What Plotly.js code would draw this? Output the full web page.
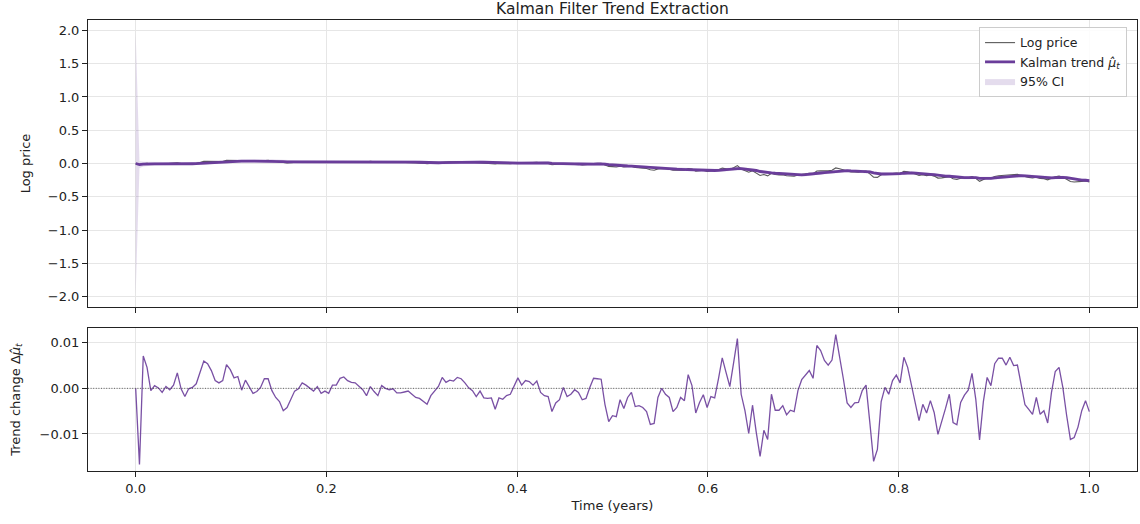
<!DOCTYPE html>
<html>
<head>
<meta charset="utf-8">
<script src="https://cdn.plot.ly/plotly-3.0.1.min.js"></script>
<style>
  html, body { margin: 0; padding: 0; background: #ffffff; }
  #chart { width: 1140px; height: 524px; }
</style>
</head>
<body>
<div id="chart"></div>
<script>
// ---- data ----
const tradingDaysPerYear = 252;

// Daily change of the Kalman trend (bottom panel)
const deltaMu = [
  0, -0.0167, 0.0071, 0.0046, -0.0005, 0.0006, 0.0001, -0.0009, 0.0004, -0.0003,
  0.0007, 0.0034, -0.0001, -0.0018, -0.0001, 0.0002, 0.0010, 0.0037, 0.0060, 0.0054,
  0.0039, 0.0017, 0.0012, 0.0017, 0.0052, 0.0041, 0.0023, 0.0026, -0.0004, 0.0018,
  0.0002, -0.0011, -0.0007, 0.0002, 0.0021, 0.0021, -0.0005, -0.0020, -0.0029, -0.0049,
  -0.0042, -0.0025, -0.0006, -0.0001, 0.0012, 0.0007, 0.0000, -0.0006, 0.0004, -0.0011,
  -0.0006, -0.0011, 0.0007, 0.0007, 0.0022, 0.0025, 0.0017, 0.0013, 0.0012, 0.0004,
  -0.0003, -0.0016, 0.0004, -0.0007, -0.0016, 0.0006, 0.0000, -0.0003, -0.0001, -0.0010,
  -0.0010, -0.0008, -0.0006, -0.0013, -0.0020, -0.0022, -0.0028, -0.0035, -0.0016, -0.0005,
  0.0004, 0.0024, 0.0013, 0.0018, 0.0016, 0.0024, 0.0021, 0.0012, 0.0001, -0.0005,
  -0.0018, -0.0006, -0.0021, -0.0022, -0.0021, -0.0046, -0.0021, -0.0024, -0.0016, -0.0013,
  0.0006, 0.0023, 0.0007, 0.0017, 0.0015, 0.0007, 0.0016, -0.0009, -0.0016, -0.0018,
  -0.0051, -0.0032, -0.0025, 0.0002, -0.0018, -0.0013, -0.0003, -0.0009, -0.0025, -0.0022,
  0.0002, 0.0022, 0.0021, 0.0020, -0.0035, -0.0073, -0.0060, -0.0062, -0.0025, -0.0044,
  -0.0020, -0.0009, -0.0040, -0.0038, -0.0042, -0.0051, -0.0079, -0.0077, -0.0020, 0.0000,
  -0.0013, -0.0020, -0.0051, -0.0042, -0.0020, -0.0027, 0.0030, 0.0006, -0.0054, -0.0031,
  -0.0014, -0.0042, -0.0018, -0.0021, 0.0021, 0.0067, 0.0035, 0.0004, 0.0056, 0.0109,
  -0.0013, -0.0049, -0.0099, -0.0037, -0.0097, -0.0149, -0.0092, -0.0112, -0.0013, -0.0048,
  -0.0048, -0.0038, -0.0058, -0.0048, -0.0051, -0.0005, 0.0019, 0.0028, 0.0039, 0.0022,
  0.0094, 0.0083, 0.0061, 0.0051, 0.0062, 0.0118, 0.0072, 0.0021, -0.0032, -0.0042,
  -0.0032, -0.0031, -0.0005, 0.0007, -0.0075, -0.0160, -0.0134, -0.0029, 0.0002, -0.0013,
  0.0017, 0.0029, 0.0012, 0.0068, 0.0046, 0.0007, -0.0035, -0.0071, -0.0035, -0.0054,
  -0.0027, -0.0053, -0.0101, -0.0075, -0.0044, -0.0013, -0.0075, -0.0080, -0.0031, -0.0015,
  -0.0004, 0.0033, -0.0024, -0.0113, -0.0029, 0.0024, 0.0006, 0.0054, 0.0066, 0.0066,
  0.0051, 0.0068, 0.0050, 0.0051, 0.0006, -0.0036, -0.0046, -0.0057, -0.0020, -0.0057,
  -0.0049, -0.0076, -0.0009, 0.0037, 0.0046, 0.0002, -0.0059, -0.0112, -0.0108, -0.0085,
  -0.0049, -0.0027, -0.0051
];

// Kalman trend (top panel, thick purple)
const kalmanTrend = [
  0, -0.0167, -0.0096, -0.0050, -0.0055, -0.0049, -0.0048, -0.0057, -0.0053, -0.0056,
  -0.0049, -0.0015, -0.0016, -0.0034, -0.0035, -0.0033, -0.0023, 0.0014, 0.0074, 0.0128,
  0.0167, 0.0184, 0.0196, 0.0213, 0.0265, 0.0306, 0.0329, 0.0355, 0.0351, 0.0369,
  0.0371, 0.0360, 0.0353, 0.0355, 0.0376, 0.0397, 0.0392, 0.0372, 0.0343, 0.0294,
  0.0252, 0.0227, 0.0221, 0.0220, 0.0232, 0.0239, 0.0239, 0.0233, 0.0237, 0.0226,
  0.0220, 0.0209, 0.0216, 0.0223, 0.0245, 0.0270, 0.0287, 0.0300, 0.0312, 0.0316,
  0.0313, 0.0297, 0.0301, 0.0294, 0.0278, 0.0284, 0.0284, 0.0281, 0.0280, 0.0270,
  0.0260, 0.0252, 0.0246, 0.0233, 0.0213, 0.0191, 0.0163, 0.0128, 0.0112, 0.0107,
  0.0111, 0.0135, 0.0148, 0.0166, 0.0182, 0.0206, 0.0227, 0.0239, 0.0240, 0.0235,
  0.0217, 0.0211, 0.0190, 0.0168, 0.0147, 0.0101, 0.0080, 0.0056, 0.0040, 0.0027,
  0.0033, 0.0056, 0.0063, 0.0080, 0.0095, 0.0102, 0.0118, 0.0109, 0.0093, 0.0075,
  0.0024, -0.0008, -0.0033, -0.0031, -0.0049, -0.0062, -0.0065, -0.0074, -0.0099, -0.0121,
  -0.0119, -0.0097, -0.0076, -0.0056, -0.0091, -0.0164, -0.0224, -0.0286, -0.0311, -0.0355,
  -0.0375, -0.0384, -0.0424, -0.0462, -0.0504, -0.0555, -0.0634, -0.0711, -0.0731, -0.0731,
  -0.0744, -0.0764, -0.0815, -0.0857, -0.0877, -0.0904, -0.0874, -0.0868, -0.0922, -0.0953,
  -0.0967, -0.1009, -0.1027, -0.1048, -0.1027, -0.0960, -0.0925, -0.0921, -0.0865, -0.0756,
  -0.0769, -0.0818, -0.0917, -0.0954, -0.1051, -0.1200, -0.1292, -0.1404, -0.1417, -0.1465,
  -0.1513, -0.1551, -0.1609, -0.1657, -0.1708, -0.1713, -0.1694, -0.1666, -0.1627, -0.1605,
  -0.1511, -0.1428, -0.1367, -0.1316, -0.1254, -0.1136, -0.1064, -0.1043, -0.1075, -0.1117,
  -0.1149, -0.1180, -0.1185, -0.1178, -0.1253, -0.1413, -0.1547, -0.1576, -0.1574, -0.1587,
  -0.1570, -0.1541, -0.1529, -0.1461, -0.1415, -0.1408, -0.1443, -0.1514, -0.1549, -0.1603,
  -0.1630, -0.1683, -0.1784, -0.1859, -0.1903, -0.1916, -0.1991, -0.2071, -0.2102, -0.2117,
  -0.2121, -0.2088, -0.2112, -0.2225, -0.2254, -0.2230, -0.2224, -0.2170, -0.2104, -0.2038,
  -0.1987, -0.1919, -0.1869, -0.1818, -0.1812, -0.1848, -0.1894, -0.1951, -0.1971, -0.2028,
  -0.2077, -0.2153, -0.2162, -0.2125, -0.2079, -0.2077, -0.2136, -0.2248, -0.2356, -0.2441,
  -0.2490, -0.2517, -0.2568
];

// Observed log price (top panel, thin grey)
const logPrice = [
  0, -0.0167, -0.0028, 0.0032, -0.0067, -0.0031, -0.0045, -0.0089, -0.0038, -0.0068,
  -0.0021, 0.0121, -0.0020, -0.0106, -0.0039, -0.0025, 0.0017, 0.0162, 0.0314, 0.0344,
  0.0323, 0.0252, 0.0244, 0.0281, 0.0473, 0.0470, 0.0421, 0.0459, 0.0335, 0.0441,
  0.0379, 0.0316, 0.0325, 0.0363, 0.0460, 0.0481, 0.0372, 0.0292, 0.0227, 0.0098,
  0.0084, 0.0127, 0.0197, 0.0216, 0.0280, 0.0267, 0.0239, 0.0209, 0.0253, 0.0182,
  0.0196, 0.0165, 0.0244, 0.0251, 0.0333, 0.0370, 0.0355, 0.0352, 0.0360, 0.0332,
  0.0301, 0.0233, 0.0317, 0.0266, 0.0214, 0.0308, 0.0284, 0.0269, 0.0276, 0.0230,
  0.0220, 0.0220, 0.0222, 0.0181, 0.0133, 0.0103, 0.0051, -0.0012, 0.0048, 0.0087,
  0.0127, 0.0231, 0.0200, 0.0238, 0.0246, 0.0302, 0.0311, 0.0287, 0.0244, 0.0215,
  0.0145, 0.0187, 0.0106, 0.0080, 0.0063, -0.0083, -0.0004, -0.0040, -0.0024, -0.0025,
  0.0057, 0.0148, 0.0091, 0.0148, 0.0155, 0.0130, 0.0182, 0.0073, 0.0029, 0.0003,
  -0.0180, -0.0136, -0.0133, -0.0023, -0.0121, -0.0114, -0.0077, -0.0110, -0.0199, -0.0209,
  -0.0111, -0.0009, 0.0008, 0.0024, -0.0231, -0.0456, -0.0464, -0.0534, -0.0411, -0.0531,
  -0.0455, -0.0420, -0.0584, -0.0614, -0.0672, -0.0759, -0.0950, -0.1019, -0.0811, -0.0731,
  -0.0796, -0.0844, -0.1019, -0.1025, -0.0957, -0.1012, -0.0754, -0.0844, -0.1138, -0.1077,
  -0.1023, -0.1177, -0.1099, -0.1132, -0.0943, -0.0692, -0.0785, -0.0905, -0.0641, -0.0320,
  -0.0821, -0.1014, -0.1313, -0.1102, -0.1439, -0.1796, -0.1660, -0.1852, -0.1469, -0.1657,
  -0.1705, -0.1703, -0.1841, -0.1849, -0.1912, -0.1733, -0.1618, -0.1554, -0.1471, -0.1517,
  -0.1135, -0.1096, -0.1123, -0.1112, -0.1006, -0.0664, -0.0776, -0.0959, -0.1203, -0.1285,
  -0.1277, -0.1304, -0.1205, -0.1150, -0.1553, -0.2053, -0.2083, -0.1692, -0.1566, -0.1639,
  -0.1502, -0.1425, -0.1481, -0.1189, -0.1231, -0.1380, -0.1583, -0.1798, -0.1689, -0.1819,
  -0.1738, -0.1895, -0.2188, -0.2159, -0.2079, -0.1968, -0.2291, -0.2391, -0.2226, -0.2177,
  -0.2137, -0.1956, -0.2208, -0.2677, -0.2370, -0.2134, -0.2200, -0.1954, -0.1840, -0.1774,
  -0.1783, -0.1647, -0.1669, -0.1614, -0.1788, -0.1992, -0.2078, -0.2179, -0.2051, -0.2256,
  -0.2273, -0.2457, -0.2198, -0.1977, -0.1895, -0.2069, -0.2372, -0.2696, -0.2788, -0.2781,
  -0.2686, -0.2625, -0.2772
];

// Half-width of the 95% confidence band around the trend
const ciHalfWidth = [
  1.96, 0.052, 0.037, 0.031, 0.028, 0.026, 0.025, 0.024, 0.023, 0.023,
  0.023, 0.023, 0.023, 0.023, 0.023, 0.023, 0.023, 0.023, 0.023, 0.023,
  0.023, 0.023, 0.023, 0.023, 0.023, 0.023, 0.023, 0.023, 0.023, 0.023,
  0.023, 0.023, 0.023, 0.023, 0.023, 0.023, 0.023, 0.023, 0.023, 0.023,
  0.023, 0.023, 0.023, 0.023, 0.023, 0.023, 0.023, 0.023, 0.023, 0.023,
  0.023, 0.023, 0.023, 0.023, 0.023, 0.023, 0.023, 0.023, 0.023, 0.023,
  0.023, 0.023, 0.023, 0.023, 0.023, 0.023, 0.023, 0.023, 0.023, 0.023,
  0.023, 0.023, 0.023, 0.023, 0.023, 0.023, 0.023, 0.023, 0.023, 0.023,
  0.023, 0.023, 0.023, 0.023, 0.023, 0.023, 0.023, 0.023, 0.023, 0.023,
  0.023, 0.023, 0.023, 0.023, 0.023, 0.023, 0.023, 0.023, 0.023, 0.023,
  0.023, 0.023, 0.023, 0.023, 0.023, 0.023, 0.023, 0.023, 0.023, 0.023,
  0.023, 0.023, 0.023, 0.023, 0.023, 0.023, 0.023, 0.023, 0.023, 0.023,
  0.023, 0.023, 0.023, 0.023, 0.023, 0.023, 0.023, 0.023, 0.023, 0.023,
  0.023, 0.023, 0.023, 0.023, 0.023, 0.023, 0.023, 0.023, 0.023, 0.023,
  0.023, 0.023, 0.023, 0.023, 0.023, 0.023, 0.023, 0.023, 0.023, 0.023,
  0.023, 0.023, 0.023, 0.023, 0.023, 0.023, 0.023, 0.023, 0.023, 0.023,
  0.023, 0.023, 0.023, 0.023, 0.023, 0.023, 0.023, 0.023, 0.023, 0.023,
  0.023, 0.023, 0.023, 0.023, 0.023, 0.023, 0.023, 0.023, 0.023, 0.023,
  0.023, 0.023, 0.023, 0.023, 0.023, 0.023, 0.023, 0.023, 0.023, 0.023,
  0.023, 0.023, 0.023, 0.023, 0.023, 0.023, 0.023, 0.023, 0.023, 0.023,
  0.023, 0.023, 0.023, 0.023, 0.023, 0.023, 0.023, 0.023, 0.023, 0.023,
  0.023, 0.023, 0.023, 0.023, 0.023, 0.023, 0.023, 0.023, 0.023, 0.023,
  0.023, 0.023, 0.023, 0.023, 0.023, 0.023, 0.023, 0.023, 0.023, 0.023,
  0.023, 0.023, 0.023, 0.023, 0.023, 0.023, 0.023, 0.023, 0.023, 0.023,
  0.023, 0.023, 0.023, 0.023, 0.023, 0.023, 0.023, 0.023, 0.023, 0.023,
  0.023, 0.023, 0.023
];

const xTickValues = [0, 0.2, 0.4, 0.6, 0.8, 1.0];
const topYTickValues = [-2, -1.5, -1, -0.5, 0, 0.5, 1, 1.5, 2];
const bottomYTickValues = [-0.01, 0, 0.01];

// ---- derived arrays ----
const timeYears = deltaMu.map((_, day) => day / tradingDaysPerYear);
const ciLower = kalmanTrend.map((m, i) => m - ciHalfWidth[i]);
const ciUpper = kalmanTrend.map((m, i) => m + ciHalfWidth[i]);

const purple = '#6a3d9a';
const font = 'DejaVu Sans, Liberation Sans, sans-serif';

const traces = [
  { x: timeYears, y: ciLower, xaxis: 'x', yaxis: 'y', mode: 'lines',
    line: { width: 0, color: 'rgba(0,0,0,0)' }, showlegend: false, hoverinfo: 'skip' },
  { x: timeYears, y: ciUpper, xaxis: 'x', yaxis: 'y', mode: 'lines', fill: 'tonexty',
    fillcolor: 'rgba(106,61,154,0.18)', line: { width: 0, color: 'rgba(0,0,0,0)' },
    name: '95% CI', legendrank: 3 },
  { x: timeYears, y: logPrice, xaxis: 'x', yaxis: 'y', mode: 'lines',
    line: { width: 1.1, color: 'rgba(60,60,60,0.85)' }, name: 'Log price', legendrank: 1 },
  { x: timeYears, y: kalmanTrend, xaxis: 'x', yaxis: 'y', mode: 'lines',
    line: { width: 2.8, color: purple }, name: 'Kalman trend <i>μ̂</i><sub><i>t</i></sub>', legendrank: 2 },
  { x: timeYears, y: deltaMu, xaxis: 'x2', yaxis: 'y2', mode: 'lines',
    line: { width: 1.3, color: purple }, opacity: 0.9, showlegend: false }
];

const axisCommon = {
  showline: true, mirror: true, linecolor: '#222', linewidth: 1,
  ticks: 'outside', ticklen: 5, tickwidth: 1, tickcolor: '#222',
  showgrid: true, gridcolor: '#e6e6e6', gridwidth: 1, zeroline: false,
  tickfont: { family: font, size: 13, color: '#222' }, automargin: false
};

const layout = {
  width: 1140, height: 524,
  margin: { l: 88, r: 3, t: 20, b: 53, pad: 0 },
  paper_bgcolor: '#ffffff', plot_bgcolor: '#ffffff',
  font: { family: font, size: 13, color: '#222' },
  title: { text: 'Kalman Filter Trend Extraction', x: 0.5, xref: 'paper', xanchor: 'center',
           y: 1 - 9 / 524, yref: 'container', yanchor: 'middle',
           font: { family: font, size: 15.5, color: '#222' } },
  showlegend: true,
  legend: { x: 0.9905, y: 0.9845, xanchor: 'right', yanchor: 'top', traceorder: 'normal',
            bgcolor: 'rgba(255,255,255,0.85)', bordercolor: '#cccccc', borderwidth: 1,
            font: { family: font, size: 12.5, color: '#222' } },
  xaxis: Object.assign({}, axisCommon, { domain: [0, 1], anchor: 'y', range: [-0.05, 1.05],
            tickvals: xTickValues, showticklabels: false }),
  yaxis: Object.assign({}, axisCommon, { domain: [0.3636, 1], anchor: 'x', range: [-2.156, 2.156],
            tickvals: topYTickValues, tickformat: '.1f',
            title: { text: 'Log price', standoff: 14, font: { family: font, size: 13, color: '#222' } } }),
  xaxis2: Object.assign({}, axisCommon, { domain: [0, 1], anchor: 'y2', range: [-0.05, 1.05], matches: 'x',
            tickvals: xTickValues, tickformat: '.1f',
            title: { text: 'Time (years)', standoff: 6, font: { family: font, size: 13, color: '#222' } } }),
  yaxis2: Object.assign({}, axisCommon, { domain: [0, 0.317], anchor: 'x2', range: [-0.018125, 0.013225],
            tickvals: bottomYTickValues, tickformat: '.2f',
            title: { text: 'Trend change Δ<i>μ̂</i><sub><i>t</i></sub>', standoff: 16,
                     font: { family: font, size: 13, color: '#222' } } }),
  shapes: [
    { type: 'line', xref: 'x2 domain', yref: 'y2', x0: 0, x1: 1, y0: 0, y1: 0,
      line: { color: 'rgba(40,40,40,0.7)', width: 1, dash: '1px,1.6px' }, layer: 'above' }
  ]
};

Plotly.newPlot('chart', traces, layout, { staticPlot: true, displayModeBar: false });
</script>
</body>
</html>
